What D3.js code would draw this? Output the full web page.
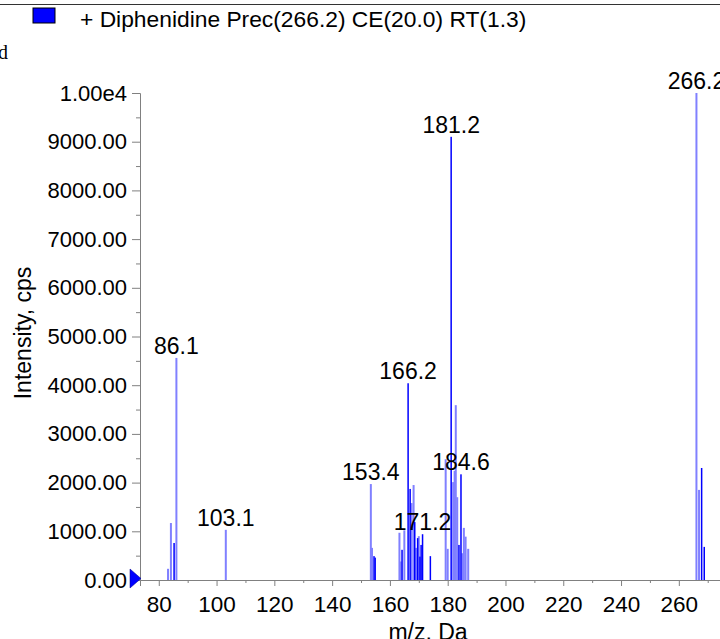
<!DOCTYPE html>
<html>
<head>
<meta charset="utf-8">
<script src="https://cdn.jsdelivr.net/npm/d3@7"></script>
<style>
body { margin: 0; background: #fff; }
svg { display: block; font-family: "Liberation Sans", Arial, sans-serif; }
</style>
</head>
<body>
<svg width="720" height="639"></svg>
<script>
// light blue sticks (m/z, intensity)
lightMz  = [83.2, 84.2, 86.1, 103.2, 153.4, 153.8, 163.3, 163.7, 165.0, 167.5, 168.2, 169.1, 170.0,
            179.3, 180.0, 181.9, 182.4, 182.8, 183.3, 185.1, 185.6, 186.2, 187.1, 266.1, 267.0];
lightInt = [230, 1170, 4560, 1030, 1970, 660, 970, 380, 1020, 1580, 1950, 660, 900,
            2480, 640, 2010, 2240, 3590, 1700, 550, 1070, 890, 640, 10000, 1850];

// dark blue sticks
darkMz  = [85.3, 154.5, 154.9, 164.2, 166.3, 167.0, 168.6, 169.6, 170.4, 170.8, 171.3, 174.0,
           181.2, 183.9, 184.6, 267.9, 268.8];
darkInt = [760, 490, 460, 620, 4040, 1870, 1190, 860, 480, 720, 940, 490,
           9100, 720, 2170, 2300, 680];

peakLabels = ["86.1", "103.1", "153.4", "166.2", "171.2", "181.2", "184.6", "266.2"];

xMajor = [80, 100, 120, 140, 160, 180, 200, 220, 240, 260];
yMajor = [0, 1000, 2000, 3000, 4000, 5000, 6000, 7000, 8000, 9000, 10000];
yLabels = ["0.00", "1000.00", "2000.00", "3000.00", "4000.00", "5000.00", "6000.00",
           "7000.00", "8000.00", "9000.00", "1.00e4"];

legendText = "+ Diphenidine Prec(266.2) CE(20.0) RT(1.3)";

svg = d3.select("svg");
axisColor = "#808080";

xScale = d3.scaleLinear().domain([73.5, 280]).range([140, 736.6]);
yScale = d3.scaleLinear().domain([0, 10000]).range([580, 93]);

// top border line
svg.append("line")
    .attr("x1", 0).attr("x2", 720)
    .attr("y1", 4.5).attr("y2", 4.5)
    .attr("stroke", "#333").attr("stroke-width", 1);

// legend
svg.append("rect")
    .attr("x", 33).attr("y", 8)
    .attr("width", 22).attr("height", 15)
    .attr("fill", "#0000ff").attr("stroke", "#000").attr("stroke-width", 1);
svg.append("text")
    .attr("x", 80).attr("y", 27)
    .attr("font-size", 22.8)
    .text(legendText);

// cut-off glyph at the left edge
svg.append("text")
    .attr("x", -2).attr("y", 59)
    .attr("font-family", "Liberation Serif, Times New Roman, serif")
    .attr("font-size", 20)
    .text("d");

// x axis
xAxis = svg.append("g")
    .attr("transform", `translate(0, ${yScale(0)})`)
    .call(d3.axisBottom(xScale).tickValues(xMajor).tickSize(6).tickPadding(10).tickFormat(d3.format("d")));
svg.append("g")
    .attr("transform", `translate(0, ${yScale(0)})`)
    .call(d3.axisBottom(xScale).tickValues(d3.range(90, 290, 20)).tickSize(3).tickFormat(""))
    .select(".domain").remove();

// y axis
yAxis = svg.append("g")
    .attr("transform", `translate(${xScale(73.5)}, 0)`)
    .call(d3.axisLeft(yScale).tickValues(yMajor).tickSize(8).tickPadding(5)
        .tickFormat((d, i) => yLabels[i]));
svg.append("g")
    .attr("transform", `translate(${xScale(73.5)}, 0)`)
    .call(d3.axisLeft(yScale).tickValues(d3.range(500, 10000, 1000)).tickSize(4).tickFormat(""))
    .select(".domain").remove();

svg.selectAll(".domain, .tick line").attr("stroke", axisColor);
svg.selectAll(".tick text").attr("font-size", 22.5).attr("font-family", null).attr("fill", "#000");
yAxis.selectAll(".tick text").attr("font-size", 22);

// sticks
lightPeaks = lightMz.map((m, i) => ({ mz: m, v: lightInt[i] }));
darkPeaks = darkMz.map((m, i) => ({ mz: m, v: darkInt[i] }));

svg.append("g").selectAll("rect")
    .data(lightPeaks)
    .enter()
    .append("rect")
    .attr("x", (d) => xScale(d.mz) - 1)
    .attr("y", (d) => yScale(d.v))
    .attr("width", 2)
    .attr("height", (d) => yScale(0) - yScale(d.v))
    .attr("fill", "#8080ff");

svg.append("g").selectAll("rect")
    .data(darkPeaks)
    .enter()
    .append("rect")
    .attr("x", (d) => xScale(d.mz) - 0.75)
    .attr("y", (d) => yScale(d.v))
    .attr("width", 1.5)
    .attr("height", (d) => yScale(0) - yScale(d.v))
    .attr("fill", "#0000ff");

// peak labels sit on the nearest stick
allPeaks = lightPeaks.concat(darkPeaks);
svg.append("g").selectAll("text")
    .data(peakLabels)
    .enter()
    .append("text")
    .each(function (lab) {
        m = parseFloat(lab);
        p = allPeaks.reduce((a, b) => Math.abs(b.mz - m) < Math.abs(a.mz - m) ? b : a);
        d3.select(this)
            .attr("x", xScale(p.mz))
            .attr("y", yScale(p.v) - 4);
    })
    .attr("text-anchor", "middle")
    .attr("font-size", 23)
    .text((d) => d);

// marker at zero
svg.append("path")
    .attr("d", `M130,${yScale(0) - 11} L130,${yScale(0) + 8} L141,${yScale(0) - 1.5} Z`)
    .attr("fill", "#0000ff")
    .attr("stroke", "#00008b")
    .attr("stroke-width", 0.5);

// axis titles
svg.append("text")
    .attr("transform", "translate(31, 333) rotate(-90)")
    .attr("text-anchor", "middle")
    .attr("font-size", 23)
    .text("Intensity, cps");

svg.append("text")
    .attr("x", 428).attr("y", 640)
    .attr("text-anchor", "middle")
    .attr("font-size", 23)
    .text("m/z, Da");
</script>
</body>
</html>
